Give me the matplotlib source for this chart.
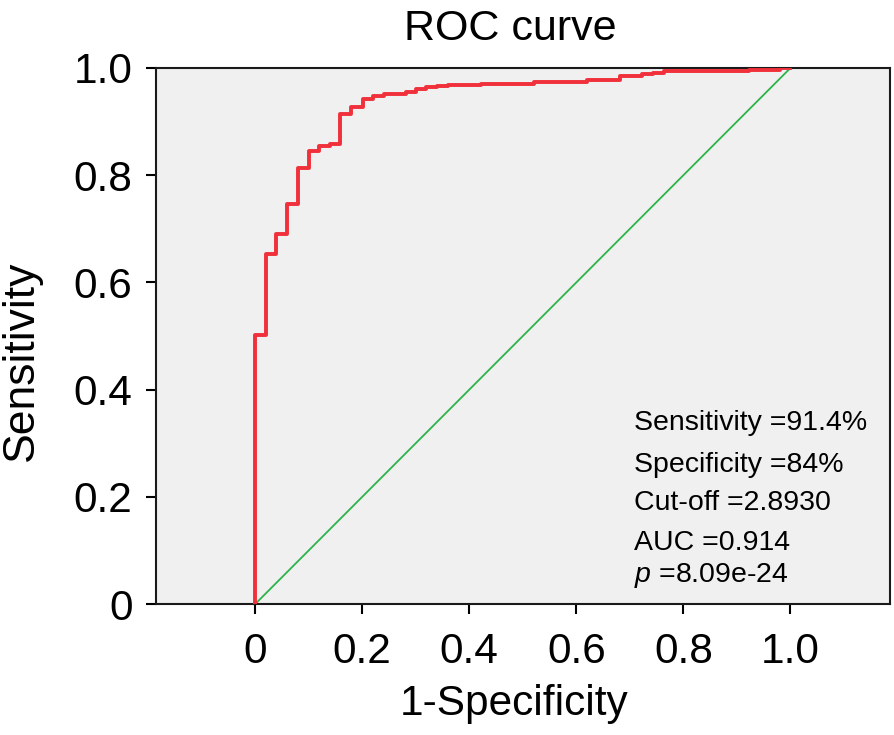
import numpy as np
import matplotlib
matplotlib.use("Agg")
import matplotlib.pyplot as plt

plt.rcParams['font.family'] = ['Liberation Sans', 'DejaVu Sans']
plt.rcParams['mathtext.fontset'] = 'custom'
plt.rcParams['mathtext.rm'] = 'Liberation Sans'
plt.rcParams['mathtext.it'] = 'Liberation Sans:italic'

# ROC step points (fpr where tpr jumps to the new level)
fpr = [0, 0, 0.02, 0.04, 0.059, 0.081, 0.10, 0.12, 0.14, 0.159, 0.179, 0.201,
       0.221, 0.241, 0.282, 0.30, 0.32, 0.34, 0.361, 0.422, 0.521, 0.62,
       0.682, 0.723, 0.743, 0.763, 0.922, 0.981, 1.0]
tpr = [0, 0.502, 0.653, 0.690, 0.746, 0.813, 0.846, 0.854, 0.858, 0.914, 0.927,
       0.942, 0.947, 0.951, 0.956, 0.960, 0.964, 0.966, 0.968, 0.971, 0.974,
       0.978, 0.985, 0.988, 0.990, 0.994, 0.997, 1.0, 1.0]

ticks = [0, 0.2, 0.4, 0.6, 0.8, 1.0]
tick_labels = ['0', '0.2', '0.4', '0.6', '0.8', '1.0']

stats = ['Sensitivity =91.4%', 'Specificity =84%', 'Cut-off =2.8930',
         'AUC =0.914', '$p$ =8.09e-24']
stats_y = [0.325, 0.246, 0.175, 0.101, 0.041]

fig = plt.figure(figsize=(8.94, 7.35), dpi=100)
ax = fig.add_axes([0.1745, 0.178, 0.8205, 0.7295])
ax.set_facecolor('#f0f0f0')

ax.plot([0, 1], [0, 1], color='#2db34a', lw=1.3, zorder=2)
ax.plot(fpr, tpr, drawstyle='steps-post', color='#f0303a', lw=2.8, zorder=3)

ax.set_xlim(-0.185, 1.185)
ax.set_ylim(0, 1)
ax.set_xticks(ticks)
ax.set_xticklabels(tick_labels)
ax.set_yticks(ticks)
ax.set_yticklabels(tick_labels)
ax.tick_params(axis='both', direction='out', length=7, width=1.5,
               labelsize=30.5, colors='black')
ax.tick_params(axis='x', pad=13)
ax.tick_params(axis='y', pad=10)

for s in ax.spines.values():
    s.set_linewidth(1.5)
    s.set_color('#1a1a1a')

ax.set_xlabel('1-Specificity', fontsize=30.5)
ax.xaxis.set_label_coords(0.488, -0.148)
ax.set_ylabel('Sensitivity', fontsize=32)
ax.yaxis.set_label_coords(-0.1555, 0.453)
ax.set_title('ROC curve', fontsize=31, pad=20, x=0.483)

for txt, yy in zip(stats, stats_y):
    ax.text(0.707, yy, txt, fontsize=20.5, va='baseline', ha='left')

fig.savefig('out.png', dpi=100)
